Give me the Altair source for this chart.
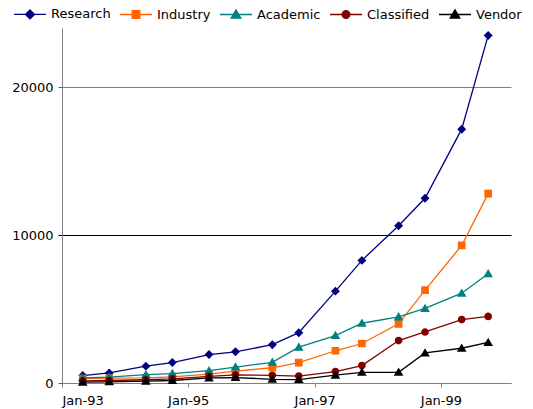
import altair as alt
import pandas as pd

dates = ["1993-05-01T00:00", "1993-10-01T00:00", "1994-05-01T00:00", "1994-10-01T00:00",
         "1995-05-01T00:00", "1995-10-01T00:00", "1996-05-01T00:00", "1996-10-01T00:00",
         "1997-05-01T00:00", "1997-10-01T00:00", "1998-05-01T00:00", "1998-10-01T00:00",
         "1999-05-01T00:00", "1999-10-01T00:00"]
series_names = ["Research", "Industry", "Academic", "Classified", "Vendor"]
research = [500, 680, 1140, 1380, 1920, 2110, 2590, 3400, 6210, 8290, 10630, 12490, 17160, 23500]
industry = [300, 330, 340, 420, 600, 800, 1030, 1380, 2180, 2670, 4000, 6280, 9300, 12800]
academic = [350, 400, 560, 640, 830, 1080, 1400, 2420, 3210, 4040, 4470, 5040, 6070, 7380]
classified = [150, 170, 220, 280, 450, 550, 520, 470, 770, 1180, 2870, 3450, 4290, 4500]
vendor = [60, 80, 120, 170, 340, 370, 250, 230, 530, 720, 720, 2030, 2350, 2740]

colors = ["#000080", "#FF6600", "#008080", "#800000", "#000000"]
# marker outlines plus a horizontal stroke used only by the legend symbols
legend_paths = [
    "M-1,0H1M0,-0.28L0.28,0L0,0.28L-0.28,0Z",
    "M-1,0H1M-0.24,-0.24H0.24V0.24H-0.24Z",
    "M-1,0H1M0,-0.3L0.3,0.22L-0.3,0.22Z",
    "M-1,0H1M0.24,0A0.24,0.24,0,1,1,-0.24,0A0.24,0.24,0,1,1,0.24,0Z",
    "M-1,0H1M0,-0.3L0.3,0.22L-0.3,0.22Z",
]
x_ticks = [1993, 1995, 1997, 1999]
y_ticks = [0, 10000, 20000]

rows = []
for name, vals in zip(series_names, [research, industry, academic, classified, vendor]):
    for d, v in zip(dates, vals):
        rows.append({"date": d, "series": name, "value": v})
df = pd.DataFrame(rows)

font = "DejaVu Sans"

x_enc = alt.X(
    "date:T",
    title=None,
    scale=alt.Scale(domain=[alt.DateTime(year=1993, month=1, date=1),
                            alt.DateTime(year=2000, month=2, date=10)]),
    axis=alt.Axis(
        values=[alt.DateTime(year=yr, month=1, date=1) for yr in x_ticks],
        format="%b-%y", grid=False, tickSize=4, labelPadding=7,
        domainColor="#808080", tickColor="#808080",
    ),
)
y_enc = alt.Y(
    "value:Q",
    title=None,
    scale=alt.Scale(domain=[0, 24000], nice=False),
    axis=alt.Axis(
        values=y_ticks, format="d", grid=True, tickSize=4, labelPadding=5,
        domainColor="#808080",
        gridColor={"condition": {"test": "datum.value === 10000", "value": "#000000"}, "value": "#808080"},
        tickColor={"condition": {"test": "datum.value === 10000", "value": "#000000"}, "value": "#606060"},
    ),
)

leg = alt.Legend(
    orient="none", legendX=-49, legendY=-31, direction="horizontal",
    title=None, symbolSize=1024, symbolStrokeWidth=1.3,
    labelFontSize=13, labelColor="#000000", labelOffset=4, columnPadding=6,
    symbolOpacity=1,
)
col_scale = alt.Scale(domain=series_names, range=colors)
shape_scale = alt.Scale(domain=series_names, range=legend_paths)

base = alt.Chart(df)
layers = []
for name in series_names:
    sub = base.transform_filter(alt.datum.series == name)
    layers.append(sub.mark_line(strokeWidth=1.3).encode(
        x=x_enc, y=y_enc, stroke=alt.Stroke("series:N", scale=col_scale, legend=leg)))
    layers.append(sub.mark_point(filled=True, opacity=1, size=1024, strokeWidth=0).encode(
        x=x_enc, y=y_enc,
        fill=alt.Fill("series:N", scale=col_scale, legend=leg),
        stroke=alt.Stroke("series:N", scale=col_scale, legend=leg),
        shape=alt.Shape("series:N", scale=shape_scale, legend=leg),
    ))

chart = alt.layer(*layers).properties(
    width=449, height=355,
    autosize=alt.AutoSizeParams(type="none"),
    padding={"left": 62, "top": 28, "right": 22, "bottom": 26},
).configure_view(stroke=None).configure_axis(
    labelFont=font, labelFontSize=13, labelColor="#000000"
).configure_legend(labelFont=font)

chart.save("out.html", embed_options={"renderer": "svg", "actions": False})
